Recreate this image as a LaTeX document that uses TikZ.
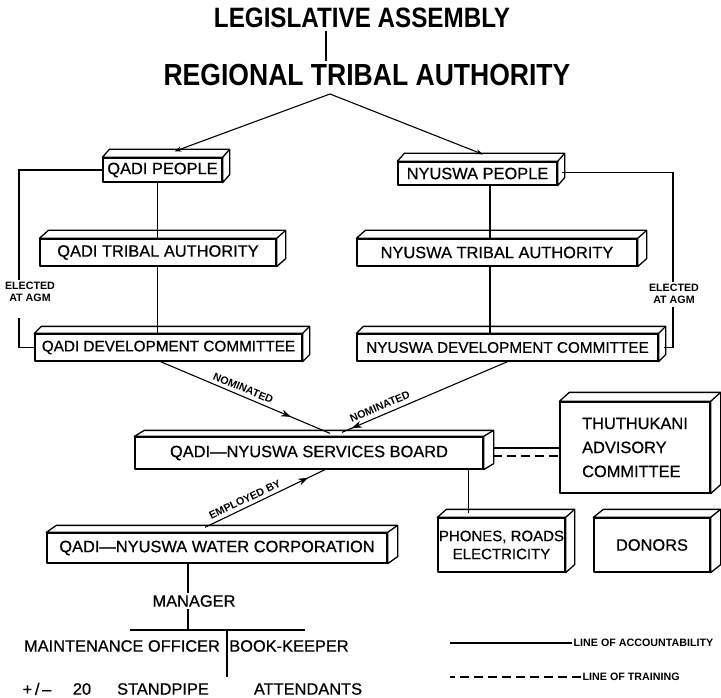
\documentclass[tikz,border=0pt]{standalone}
\usepackage{fontspec}
\setmainfont{Liberation Sans}
\newfontfamily\medfam{Liberation Sans}[FakeBold=0.6]
\usetikzlibrary{calc,arrows.meta,decorations.markings}
\pgfdeclarelayer{background}
\pgfsetlayers{background,main}
\newcommand\bxfont{\medfam\fontsize{16.4}{19}\selectfont}
\newcommand\devfont{\medfam\fontsize{15.3}{18}\selectfont}
\newcommand\lblfont{\fontsize{10.7}{12}\selectfont\bfseries}
\newcommand\boxdepth[3]{%
  \draw[boxline,fill=white] (#1.north west) -- ++(#2,#3) -- ($(#1.north east)+(#2,#3)$) -- ($(#1.south east)+(#2,#3)$) -- (#1.south east) -- (#1.north east) -- cycle;
  \draw[boxline] (#1.north east) -- ++(#2,#3);
}
\begin{document}
\begin{tikzpicture}[x=1pt,y=-1pt,
  boxline/.style={line width=1.3pt,line join=round},
  slab/.style={draw,boxline,fill=white,inner sep=0pt,font=\bxfont},
  conn/.style={line width=1.1pt},
  txt/.style={font=\bxfont,inner sep=2pt},
  lbl/.style={font=\lblfont,inner sep=1.5pt},
  trainline/.style={line width=1.1pt,dash pattern=on 9pt off 5pt},
  marr/.style={postaction={decorate,decoration={markings,mark=at position #1 with {\arrow{Stealth[length=10pt,width=7pt]}}}}},
  tip/.style={-{Stealth[length=7pt,width=5pt]}}]
\fill[white] (0,0) rectangle (721,698);
\useasboundingbox (0,0) rectangle (721,698);

% titles
\node[inner sep=3pt,font=\bfseries\fontsize{28}{30}\selectfont] (la) at (362,18) {\scalebox{0.865}[1]{LEGISLATIVE ASSEMBLY}};
\node[inner sep=3pt,font=\bfseries\fontsize{30.5}{32}\selectfont] (rta) at (367,75) {\scalebox{0.87}[1]{REGIONAL TRIBAL AUTHORITY}};

% boxes
\node[slab,minimum width=119,minimum height=24] (qp) at (162.5,170) {QADI PEOPLE};
\node[slab,minimum width=159,minimum height=23] (np) at (477.5,173.5) {NYUSWA PEOPLE};
\node[slab,minimum width=236,minimum height=27] (qta) at (158,252.5) {QADI TRIBAL AUTHORITY};
\node[slab,minimum width=280,minimum height=27] (nta) at (497,252.5) {NYUSWA TRIBAL AUTHORITY};
\node[slab,minimum width=267,minimum height=27,font=\devfont] (qdc) at (168.5,347.5) {QADI DEVELOPMENT COMMITTEE};
\node[slab,minimum width=301,minimum height=27,font=\devfont] (ndc) at (507.5,347.5) {NYUSWA DEVELOPMENT COMMITTEE};
\node[slab,minimum width=348,minimum height=32] (sb) at (309,453) {QADI—NYUSWA SERVICES BOARD};
\node[slab,minimum width=340,minimum height=30] (wc) at (217,548) {QADI—NYUSWA WATER CORPORATION};
\node[slab,minimum width=150,minimum height=91,align=left,font=\medfam\fontsize{16.4}{24}\selectfont] (tac) at (635,447.5) {THUTHUKANI\\ADVISORY\\COMMITTEE};
\node[slab,minimum width=127,minimum height=54,align=center,font=\medfam\fontsize{15}{18}\selectfont] (ph) at (501.5,545) {PHONES, ROADS\\ELECTRICITY};
\node[slab,minimum width=116,minimum height=54] (dn) at (652,545) {DONORS};

\boxdepth{qp}{7}{-8}
\boxdepth{np}{7}{-8}
\boxdepth{qta}{9}{-8}
\boxdepth{nta}{9}{-8}
\boxdepth{qdc}{7}{-7}
\boxdepth{ndc}{7}{-7}
\boxdepth{sb}{10}{-6}
\boxdepth{wc}{10}{-7}
\boxdepth{tac}{10}{-9}
\boxdepth{ph}{9}{-8}
\boxdepth{dn}{10}{-8}

% plain texts
\node[txt] (mgr) at (194,601) {MANAGER};
\node[txt] (mo) at (122,646) {MAINTENANCE OFFICER};
\node[txt] (bk) at (289,646) {BOOK-KEEPER};
\node[txt] (pm) at (37,689) {+\,/\,–};
\node[txt] (tw) at (82,689) {20};
\node[txt] (sp) at (163,689) {STANDPIPE};
\node[txt] (at) at (308,689) {ATTENDANTS};
\node[lbl,align=center] (ela) at (30,292) {ELECTED\\AT AGM};
\node[lbl,align=center] (era) at (674,294) {ELECTED\\AT AGM};
\node[lbl,anchor=west] (lg1) at (572,643) {LINE OF ACCOUNTABILITY};
\node[lbl,anchor=west] (lg2) at (581,677) {LINE OF TRAINING};

% connectors
\coordinate (lx) at (326,0);
\draw[conn] (la.south -| lx) -- (rta.north -| lx);
\coordinate (apex) at (330,94);
\draw[conn,tip] (apex) -- ($(qp.north)+(12,-6)$);
\draw[conn,tip] (apex) -- ($(np.north)+(5.5,-7)$);

\coordinate (qx) at (157.5,0);
\draw[conn] (qp.south -| qx) -- (qta.north -| qx);
\draw[conn] (qta.south -| qx) -- (qdc.north -| qx);
\coordinate (nx) at (490,0);
\draw[conn] (np.south -| nx) -- (nta.north -| nx);
\draw[conn] (nta.south -| nx) -- (ndc.north -| nx);

\coordinate (el1) at (19,280);
\coordinate (el2) at (19,318);
\draw[conn] (qp.west) -| (el1);
\draw[conn] (el2) |- (qdc.west);
\coordinate (er1) at (673,282);
\coordinate (er2) at (673,307);
\draw[conn] ($(np.east)+(4,-1)$) -| (er1);
\draw[conn] (er2) |- ($(ndc.east)+(5,0)$);

\draw[conn,marr=0.77] ($(qdc.south)+(-8,0)$) -- ($(sb.north)+(21,-3)$)
  node[lbl,sloped,above=2pt,pos=0.47] {NOMINATED};
\draw[conn,marr=0.94] (ndc.south) -- ($(sb.north)+(33,-4)$)
  node[lbl,sloped,above=3pt,pos=0.75] {NOMINATED};
\draw[conn,marr=0.86] ($(wc.north)+(-12,-5)$) -- ($(sb.south)+(16,0)$)
  node[lbl,sloped,above=2pt,pos=0.36] {EMPLOYED BY};

\coordinate (s1) at ($(sb.east)+(9,-5)$);
\draw[conn] (s1) -- (s1 -| tac.west);
\coordinate (s2) at ($(sb.east)+(9,3)$);
\draw[trainline] (s2) -- (s2 -| tac.west);
\begin{pgfonlayer}{background}
\draw[conn] ($(sb.east)+(9,12)$) -- ($(dn.north)+(-9,-3)$);
\end{pgfonlayer}
\coordinate (pt) at ($(ph.north)+(-33,-4)$);
\draw[conn] (pt) -- (pt |- sb.south);

\coordinate (mx) at (188,0);
\coordinate (hl) at (130,630);
\coordinate (hr) at (305,630);
\coordinate (dv) at (227,677);
\draw[conn] (wc.south -| mx) -- (mgr.north -| mx);
\draw[conn] (mgr.south -| mx) -- (mx |- hl);
\draw[conn] (hl) -- (hr);
\draw[conn] (dv |- hl) -- (dv);

% legend
\draw[conn] (lg1.west) -- ++(-122,0);
\draw[trainline] (lg2.west) -- ++(-131,0);
\end{tikzpicture}
\end{document}
